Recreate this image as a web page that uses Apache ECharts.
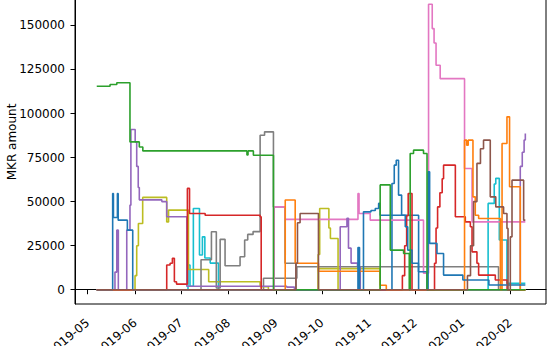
<!DOCTYPE html>
<html><head><meta charset="utf-8">
<script src="https://cdn.jsdelivr.net/npm/echarts@6/dist/echarts.min.js"></script>
<style>html,body{margin:0;padding:0;background:#fff}#c{width:553px;height:346px}</style>
</head><body><div id="c"></div>
<script>
// Dates are given as day offsets from START_DATE; values are MKR amounts (step-post holds value until next point)
const START_DATE = '2019-05-01';
const monthTicks = ['2019-05-01','2019-06-01','2019-07-01','2019-08-01','2019-09-01','2019-10-01','2019-11-01','2019-12-01','2020-01-01','2020-02-01'];
const yTicks = [0, 25000, 50000, 75000, 100000, 125000, 150000];

const gray2 = [[5.9,0],[114.8,6500],[136.6,13000],[268.3,0],[285.8,0]];
const olive2 = [[5.9,0],[150.7,12000],[191,0],[285.8,0]];
const blueB = [[5.9,0],[198.7,42300],[216.1,0],[285.8,0]];
const cyan = [[5.9,0],[65.5,14000],[66.8,2000],[69,46100],[73,19700],[74.9,30000],[76.5,18000],[80,15100],[85.4,0],[261.5,49000],[265.5,60000],[266.5,63200],[268.8,28200],[273.8,3600],[285.8,3600]];
const olive = [[5.9,0],[30.9,8000],[32,25000],[33.1,37600],[35.9,52400],[51.6,38500],[52.8,45200],[65.8,11500],[79,4500],[112.6,1700],[118,0],[150.5,20000],[151.5,46100],[156.5,46100],[157.5,35000],[158.5,29100],[163.5,0],[285.8,0]];
const gray1 = [[5.9,0],[74,17000],[80.8,32900],[84,1000],[86.5,28600],[89.7,13600],[99.5,18700],[102.5,28200],[104.5,31400],[108,33000],[112.6,87700],[115.5,89600],[121.3,47000],[128.9,15000],[136,0],[285.8,0]];
const pink = [[5.9,0],[121.8,47000],[129,39900],[176.5,54600],[177.2,43300],[184.5,39500],[219.3,9400],[222.6,162000],[225,148200],[226.2,140000],[227.5,127400],[230.2,119800],[246.1,68800],[251,38500],[285.8,38500]];
const purple = [[5.9,0],[17.8,10000],[19,33800],[20,0],[25.5,33800],[27.6,48000],[28.2,90900],[30.3,90900],[31,83900],[32,70000],[33,58000],[33.7,51000],[48.4,50000],[51.6,41400],[64.7,2000],[130,1500],[135,0],[164.9,35700],[169.3,40500],[170.3,23600],[172,15100],[176.2,13000],[178,0],[282.5,70000],[283.8,78000],[285,85000],[285.8,88700]];
const red = [[5.9,0],[51.6,14000],[53.8,15000],[55.3,17800],[56.6,4500],[58,3200],[65.1,57500],[66.5,43300],[76.7,42300],[112.6,41400],[113.3,0],[205.5,8000],[207,25000],[208.3,42000],[209.3,54600],[211.8,0],[226.5,15000],[227.5,35000],[228.5,47000],[230,55000],[231.5,63000],[232.4,70700],[240.1,41400],[246.6,38500],[249.9,35700],[251,21500],[254.2,15000],[255.3,8300],[266.2,5500],[273.9,0],[285.8,0]];
const orange = [[5.9,0],[129,50900],[135.5,15000],[150.7,10500],[191,2500],[195,0],[246.1,84900],[247.5,82000],[248.5,84900],[251.6,52700],[253.1,42300],[255.3,40400],[269.5,0],[270.6,83000],[273.8,98100],[275.5,58400],[282.5,0],[285.8,0]];
const blueA = [[5.9,0],[16.3,54600],[16.8,41000],[19.4,54600],[19.9,39500],[25.9,33800],[29.4,0],[176.5,24000],[177.5,0],[180.1,44200],[185,45000],[187.8,46100],[190,49000],[191,42300],[198.7,60300],[200.2,70700],[201.5,73500],[203,53700],[205,42300],[207.4,35700],[209,22500],[211.8,15000],[216,10200],[221.5,0],[222.3,66900],[223.3,26300],[228.1,20600],[232.4,8300],[245,5500],[262,2700],[285.8,2700]];
const green = [[5.9,115500],[14.6,116500],[19,117500],[27.6,83900],[33.7,81000],[36,78800],[104,76500],[104.7,78800],[108.2,76300],[121.3,0],[191,59500],[197.6,22500],[206.3,20600],[210,0],[210.6,77300],[212.8,79200],[219.3,77300],[221.6,0],[285.8,0]];
const brown = [[5.9,0],[136,15000],[137,38000],[138.7,43300],[149.7,43300],[150.7,0],[248,8000],[250,25000],[252,50000],[254.2,71700],[256.5,80000],[258.5,84900],[261.8,84900],[262.9,52700],[266.5,47000],[271.6,43300],[273.8,34800],[274.5,0],[276,30000],[277.1,62200],[282.5,62200],[284.7,39500],[285.8,39500]];

const seriesList = [
  ['gray2', gray2, '#7f7f7f'], ['olive2', olive2, '#bcbd22'], ['blueB', blueB, '#1f77b4'],
  ['cyan', cyan, '#17becf'], ['olive', olive, '#bcbd22'], ['gray1', gray1, '#7f7f7f'],
  ['pink', pink, '#e377c2'], ['purple', purple, '#9467bd'], ['red', red, '#d62728'],
  ['orange', orange, '#ff7f0e'], ['blueA', blueA, '#1f77b4'], ['green', green, '#2ca02c'],
  ['brown', brown, '#8c564b']
];

const p = START_DATE.split('-').map(Number);
const START = Date.UTC(p[0], p[1]-1, p[2]);
const DAY = 86400000;
const Y_MIN = -8100, Y_MAX = 170100;
const toMs = s => { const q = s.split('-').map(Number); return Date.UTC(q[0], q[1]-1, q[2]); };
const monthMs = monthTicks.map(toMs);
const pad2 = n => (n < 10 ? '0' : '') + n;
const fmt = v => { const d = new Date(v); return d.getUTCFullYear() + '-' + pad2(d.getUTCMonth()+1); };

const chart = echarts.init(document.getElementById('c'), null, {renderer: 'svg'});
const font = 'DejaVu Sans';

chart.setOption({
  animation: false,
  backgroundColor: '#fff',
  grid: {left: 75, right: 7, top: -10, bottom: 42, show: true, borderColor: '#000', borderWidth: 1,
         containLabel: false, outerBoundsMode: 'none'},
  xAxis: {
    type: 'value', min: START - 8.3*DAY, max: START + 299.3*DAY,
    axisLine: {show: true, lineStyle: {color: '#000', width: 1}},
    axisTick: {show: true, customValues: monthMs, length: 4.5, lineStyle: {color: '#000'}},
    axisLabel: {customValues: monthMs, formatter: fmt, rotate: 40, margin: 17, fontSize: 12, color: '#000', fontFamily: font, hideOverlap: false},
    splitLine: {show: false}
  },
  yAxis: {
    type: 'value', min: Y_MIN, max: Y_MAX,
    name: 'MKR amount', nameLocation: 'middle', nameGap: 57, nameRotate: 90, nameMoveOverlap: false,
    nameTextStyle: {fontSize: 12, color: '#000', fontFamily: font, padding: [0, 0, 0, 10]},
    axisLine: {show: true, lineStyle: {color: '#000', width: 1}},
    axisTick: {show: true, customValues: yTicks, length: 4.5, lineStyle: {color: '#000'}},
    axisLabel: {customValues: yTicks, formatter: v => String(v), margin: 10, fontSize: 12, color: '#000', fontFamily: font},
    splitLine: {show: false}
  },
  series: seriesList.map(([name, arr, color]) => ({
    name, type: 'line', step: 'end', showSymbol: false, silent: true,
    data: arr.map(([d, v]) => [START + d*DAY, v]),
    lineStyle: {color, width: 1.6}, itemStyle: {color}
  }))
});
</script></body></html>
